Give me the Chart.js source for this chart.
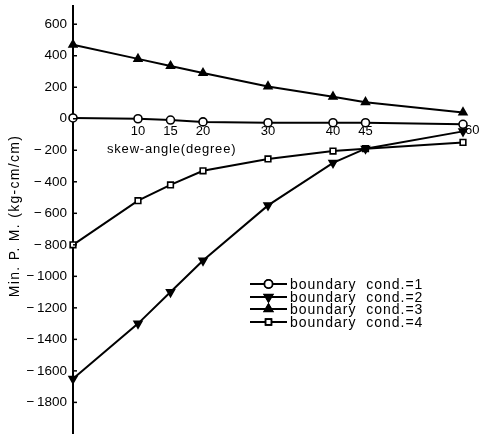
<!DOCTYPE html>
<html>
<head>
<meta charset="utf-8">
<script src="https://cdn.jsdelivr.net/npm/chart.js@4/dist/chart.umd.min.js"></script>
<style>
html,body{margin:0;padding:0;background:#fff;}
canvas{display:block;}
</style>
</head>
<body>
<canvas id="c" width="483" height="440"></canvas>
<script>
// ---- data ----
const angles = [0, 10, 15, 20, 30, 40, 45, 60];
const bc1 = [5, 0, -8, -20, -25, -25, -25, -35];
const bc2 = [-1650, -1300, -1100, -900, -550, -280, -190, -80];
const bc3 = [470, 380, 335, 290, 205, 140, 105, 40];
const bc4 = [-800, -520, -420, -330, -255, -205, -190, -150];
const seriesLabels = ['boundary cond.=1', 'boundary cond.=2', 'boundary cond.=3', 'boundary cond.=4'];
const xTickValues = [10, 15, 20, 30, 40, 45, 60];
const yTickValues = [600, 400, 200, 0, -200, -400, -600, -800, -1000, -1200, -1400, -1600, -1800];
const xTitle = 'skew-angle(degree)';
const yTitle = 'Min. P. M. (kg-cm/cm)';

const FONT = 'Liberation Sans, Arial, Helvetica, sans-serif';

function pts(vals) { return angles.map((a, i) => ({x: a, y: vals[i]})); }
function fmt(v) { return v < 0 ? '\u2212\u2009' + Math.abs(v) : String(v); }

const styles = [
  {pointStyle: 'circle', bg: '#fff', rot: 0, r: 4},
  {pointStyle: 'triangle', bg: '#000', rot: 180, r: 4.5},
  {pointStyle: 'triangle', bg: '#000', rot: 0, r: 4.5},
  {pointStyle: 'rect', bg: '#fff', rot: 0, r: 4}
];
const seriesVals = [bc1, bc2, bc3, bc4];
const lastX = xTickValues[xTickValues.length - 1];

const datasets = seriesVals.map((vals, i) => ({
  label: seriesLabels[i],
  data: pts(vals),
  borderColor: '#000',
  borderWidth: 2,
  pointStyle: styles[i].pointStyle,
  pointRotation: styles[i].rot,
  pointRadius: styles[i].r,
  pointBorderWidth: 1.6,
  pointBorderColor: '#000',
  pointBackgroundColor: styles[i].bg,
  tension: 0,
  clip: false,
  fill: false
}));

const decorPlugin = {
  id: 'decor',
  afterDraw(chart) {
    const ctx = chart.ctx;
    const ys = chart.scales.y;
    const xs = chart.scales.x;
    const area = chart.chartArea;
    ctx.save();
    // inward tick marks on the y axis
    ctx.strokeStyle = '#000';
    ctx.lineWidth = 1.5;
    ys.ticks.forEach(t => {
      const py = ys.getPixelForValue(t.value);
      ctx.beginPath();
      ctx.moveTo(area.left, py);
      ctx.lineTo(area.left + 4, py);
      ctx.stroke();
    });
    const y0 = ys.getPixelForValue(0);
    // last x tick label, set just right of its point as in the reference
    ctx.fillStyle = '#000';
    ctx.font = '13px ' + FONT;
    ctx.textBaseline = 'middle';
    ctx.textAlign = 'left';
    ctx.fillText(String(lastX), xs.getPixelForValue(lastX) + 2, y0 + 12);
    // axis titles
    ctx.letterSpacing = '0.8px';
    ctx.fillText(xTitle, area.left + 34, y0 + 31);
    ctx.save();
    ctx.translate(15, 216);
    ctx.rotate(-Math.PI / 2);
    ctx.textAlign = 'center';
    ctx.font = '14px ' + FONT;
    ctx.letterSpacing = '1.3px';
    ctx.fillText(yTitle, 0, 0);
    ctx.restore();
    // legend
    const lx0 = 250, lx1 = 287, ltx = 290;
    const rows = [284, 297, 309, 322];
    chart.data.datasets.forEach((ds, i) => {
      const y = rows[i];
      ctx.strokeStyle = '#000';
      ctx.lineWidth = 2;
      ctx.beginPath();
      ctx.moveTo(lx0, y);
      ctx.lineTo(lx1, y);
      ctx.stroke();
      Chart.helpers.drawPoint(ctx, {
        pointStyle: ds.pointStyle,
        rotation: ds.pointRotation,
        radius: ds.pointRadius,
        borderWidth: ds.pointBorderWidth
      }, (lx0 + lx1) / 2, y);
      ctx.fillStyle = ds.pointBackgroundColor;
      ctx.strokeStyle = '#000';
      ctx.lineWidth = ds.pointBorderWidth;
      ctx.fill();
      ctx.stroke();
      ctx.fillStyle = '#000';
      ctx.font = '14px ' + FONT;
      ctx.letterSpacing = '1px';
      ctx.textAlign = 'left';
      ctx.textBaseline = 'middle';
      ctx.fillText(ds.label.replace(' ', '  '), ltx, y + 1);
    });
    ctx.restore();
  }
};

new Chart(document.getElementById('c'), {
  type: 'line',
  data: {datasets},
  options: {
    responsive: false,
    animation: false,
    devicePixelRatio: 1,
    layout: {padding: {top: 5, right: 7, left: 0, bottom: 0}},
    plugins: {legend: {display: false}, tooltip: {enabled: false}},
    scales: {
      x: {
        type: 'linear',
        min: 0,
        max: 62,
        position: {y: 0},
        afterBuildTicks: s => { s.ticks = xTickValues.map(v => ({value: v})); },
        afterFit: s => { s.paddingLeft = 0; s.paddingRight = 0; },
        grid: {display: false, drawTicks: false},
        border: {display: false},
        ticks: {color: '#000', font: {family: FONT, size: 13}, padding: 5, maxRotation: 0, autoSkip: false,
                callback: v => (v === lastX ? '' : String(v))}
      },
      y: {
        type: 'linear',
        min: -2000,
        max: 715,
        afterBuildTicks: s => { s.ticks = yTickValues.map(v => ({value: v})); },
        afterFit: s => { s.width = 73; s.paddingTop = 0; s.paddingBottom = 0; },
        grid: {display: false, drawTicks: false},
        border: {display: true, color: '#000', width: 2},
        ticks: {color: '#000', font: {family: FONT, size: 13.5}, padding: 6, autoSkip: false, callback: v => fmt(v)}
      }
    }
  },
  plugins: [decorPlugin]
});
</script>
</body>
</html>
